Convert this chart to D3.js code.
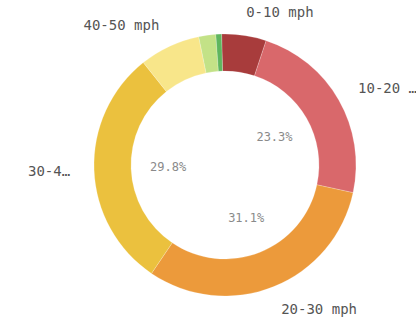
<!DOCTYPE html>
<html><head><meta charset="utf-8">
<script src="https://cdn.jsdelivr.net/npm/d3@7"></script>
<style>html,body{margin:0;padding:0;background:#fff;}svg{display:block;}</style>
</head><body>
<svg id="c" width="416" height="325"></svg>
<script>
const categories = ["0-10 mph", "10-20 mph", "20-30 mph", "30-40 mph", "40-50 mph", "50-60 mph", "60+ mph"];
const displayLabels = ["0-10 mph", "10-20 \u2026", "20-30 mph", "30-4\u2026", "40-50 mph", "", ""];
const values = [5.5, 23.3, 31.1, 29.8, 7.5, 2.1, 0.7];
const colors = ["#a83c3c", "#d9686b", "#ec9a3b", "#ebc13e", "#f8e68a", "#c3e287", "#5fb65e"];

const svg = d3.select("#c");
const cx = 225, cy = 165, outerR = 131, innerR = 94;
const start = -1.5 * Math.PI / 180;
const total = d3.sum(values);

const pie = d3.pie().sort(null).value(d => d.v).startAngle(start).endAngle(start + 2 * Math.PI);
const data = categories.map((c, i) => ({c, v: values[i], lab: displayLabels[i], col: colors[i]}));
const arcs = pie(data);
const arc = d3.arc().innerRadius(innerR).outerRadius(outerR);

const g = svg.append("g").attr("transform", `translate(${cx},${cy})`);
g.selectAll("path").data(arcs).join("path")
  .attr("d", arc).attr("fill", d => d.data.col)
  .attr("stroke", "rgba(255,255,255,0.35)").attr("stroke-width", 0.6);

const mid = d => (d.startAngle + d.endAngle) / 2;
const labR = 155, pctR = 57;

g.selectAll("text.lab").data(arcs.filter(d => d.data.lab)).join("text")
  .attr("class", "lab")
  .attr("x", d => labR * Math.sin(mid(d)) - (Math.sin(mid(d)) >= 0 ? 1.5 : 0))
  .attr("y", d => -labR * Math.cos(mid(d)))
  .attr("dy", "0.35em")
  .attr("text-anchor", d => Math.sin(mid(d)) >= 0 ? "start" : "end")
  .attr("font-family", "DejaVu Sans Mono")
  .attr("font-size", 14)
  .attr("fill", "#555")
  .text(d => d.data.lab);

const fmt = d3.format(".1f");
g.selectAll("text.pct").data(arcs.filter(d => d.data.v / total >= 0.2)).join("text")
  .attr("class", "pct")
  .attr("x", d => pctR * Math.sin(mid(d)))
  .attr("y", d => -pctR * Math.cos(mid(d)))
  .attr("dy", "0.35em")
  .attr("text-anchor", "middle")
  .attr("font-family", "DejaVu Sans Mono")
  .attr("font-size", 12)
  .attr("fill", "#8a8a8a")
  .text(d => fmt(d.data.v / total * 100) + "%");
</script>
</body></html>
